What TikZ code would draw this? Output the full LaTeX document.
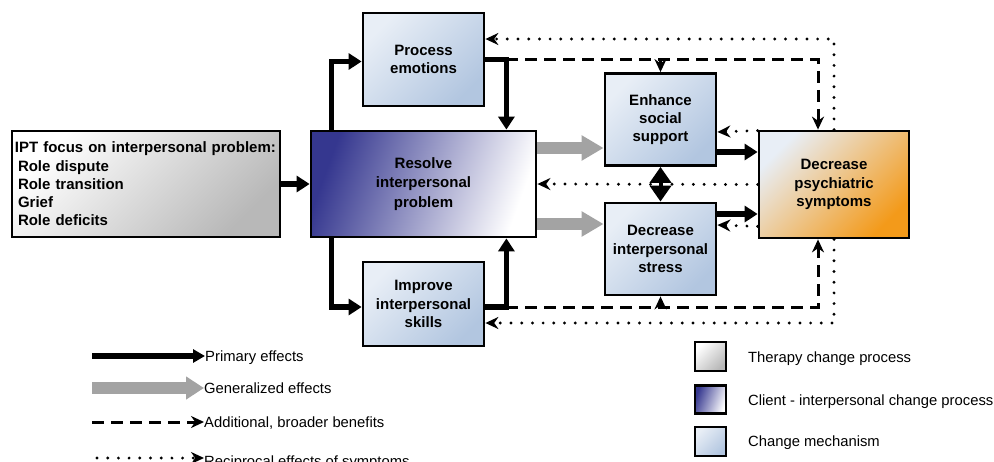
\documentclass[tikz,border=0pt]{standalone}
\usepackage{fontspec}
\setmainfont{Liberation Sans}
\usetikzlibrary{arrows.meta}

\definecolor{mechlight}{HTML}{E8EEF6}
\definecolor{mechdark}{HTML}{B2C6E0}
\definecolor{clientblue}{HTML}{35378F}
\definecolor{symorange}{HTML}{F39A1A}
\definecolor{arrowgrey}{HTML}{A3A3A3}

\begin{document}
\begin{tikzpicture}[x=1pt,y=-1pt,
  every node/.style={font=\fontsize{14.8}{18.3}\selectfont},
  boxnode/.style={draw,line width=2.8pt,align=center,inner sep=0pt,
    font=\bfseries\fontsize{15}{18.3}\selectfont},
  mech/.style={boxnode,top color=mechlight,bottom color=mechdark,shading angle=45},
  therapy/.style={boxnode,top color=white,bottom color=black!28,shading angle=45},
  client/.style={boxnode,top color=clientblue,bottom color=white,shading angle=70},
  symbox/.style={boxnode,top color=mechlight,bottom color=symorange,shading angle=45},
  primary/.style={line width=5.5pt,-{Triangle[length=13pt,width=16pt]}},
  general/.style={line width=12pt,arrowgrey,-{Triangle[length=22pt,width=24pt]}},
  broad/.style={line width=3pt,dash pattern=on 12pt off 7pt,-{Stealth[length=13pt,width=12pt]}},
  recip/.style={line width=3.2pt,line cap=round,dash pattern=on 0pt off 10.7pt,-{Stealth[length=13pt,width=12pt]}},
  legtext/.style={anchor=base west,inner sep=0pt}]
  \useasboundingbox (0,0) rectangle (994,461);

  \node[therapy,minimum width=268pt,minimum height=106pt,text width=262pt,align=left] (ipt) at (146,184)
    {IPT focus on interpersonal problem:\\\hspace{3pt}Role dispute\\\hspace{3pt}Role transition\\\hspace{3pt}Grief\\\hspace{3pt}Role deficits};
  \node[client,minimum width=225pt,minimum height=106pt,font=\bfseries\fontsize{15}{19.5}\selectfont] (resolve) at (423.5,184)
    {Resolve\\interpersonal\\problem};
  \node[mech,minimum width=121pt,minimum height=93pt] (process) at (423.5,59.5) {Process\\emotions};
  \node[mech,minimum width=121pt,minimum height=84pt] (improve) at (423.5,304) {Improve\\interpersonal\\skills};
  \node[mech,minimum width=111pt,minimum height=92pt] (enhance) at (660.5,119.5) {Enhance\\social\\support};
  \node[mech,minimum width=111pt,minimum height=92pt] (stress) at (660.5,249) {Decrease\\interpersonal\\stress};
  \node[symbox,minimum width=150pt,minimum height=107pt] (symptoms) at (834,184.5) {Decrease\\psychiatric\\symptoms};

  \draw[primary] (ipt) -- (resolve);
  \draw[primary] ([xshift=22pt]resolve.north west) |- ([yshift=-2pt]process.west);
  \draw[primary] (process.east) -| ([xshift=-31pt]resolve.north east);
  \draw[primary] ([xshift=22pt]resolve.south west) |- ([yshift=-3pt]improve.west);
  \draw[primary] ([yshift=-3pt]improve.east) -| ([xshift=-31pt]resolve.south east);

  \draw[general] ([yshift=36pt]resolve.east) -- ([yshift=-28.5pt]enhance.west);
  \draw[general] ([yshift=-40pt]resolve.east) -- ([yshift=25pt]stress.west);

  \draw[primary] ([yshift=-32.5pt]enhance.east) -- ([yshift=32.5pt]symptoms.west);
  \draw[primary] ([yshift=35pt]stress.east) -- ([yshift=-29.5pt]symptoms.west);
  \draw[line width=4pt,{Triangle[length=16pt,width=21pt]}-{Triangle[length=16pt,width=21pt]}] (enhance.south) -- (stress.north);

  \draw[broad] ([xshift=21pt]process.east) -| ([xshift=-16pt]symptoms.north);
  \draw[broad] (enhance.north |- process.east) -- (enhance.north);
  \draw[broad] ([xshift=21pt,yshift=-3pt]improve.east) -| ([xshift=-16pt]symptoms.south);
  \draw[broad] ([yshift=-3pt]stress.south |- improve.east) -- (stress.south);

  \draw[recip] (symptoms.west) -- (resolve.east);
  \draw[recip] ([yshift=-1pt]symptoms.north west) -- ([yshift=-12.5pt]enhance.east);
  \draw[recip] ([yshift=13pt]symptoms.south west) -- ([yshift=24pt]stress.east);
  \draw[recip] (symptoms.north) |- ([yshift=20.5pt]process.east);
  \draw[recip] (symptoms.south) |- ([yshift=-19pt]improve.east);

  \node[legtext] (lprim) at (205,361) {Primary effects};
  \node[legtext] (lgen) at (204,393) {Generalized effects};
  \node[legtext] (lbroad) at (204,427) {Additional, broader benefits};
  \node[legtext] (lrecip) at (204,466) {Reciprocal effects of symptoms};
  \coordinate (lprimstart) at (92,356);
  \coordinate (lgenstart) at (92,388);
  \coordinate (lbroadstart) at (92,422);
  \coordinate (lrecipstart) at (97,458);
  \draw[primary,-{Triangle[length=12pt,width=13pt]}] (lprimstart) -- (lprimstart -| lprim.west);
  \draw[general,-{Triangle[length=18pt,width=22pt]}] (lgenstart) -- (lgenstart -| lgen.west);
  \draw[broad] (lbroadstart) -- (lbroadstart -| lbroad.west);
  \draw[recip] (lrecipstart) -- (lrecipstart -| lrecip.west);

  \node[therapy,minimum width=31pt,minimum height=29pt] (ltherapy) at (710.5,356.5) {};
  \node[client,minimum width=31pt,minimum height=28pt] (lclient) at (710.5,399.5) {};
  \node[mech,minimum width=31pt,minimum height=29pt] (lmech) at (710.5,441.5) {};
  \node[legtext] (ltherapytxt) at (748,362) {Therapy change process};
  \node[legtext] (lclienttxt) at (748,405) {Client - interpersonal change process};
  \node[legtext] (lmechtxt) at (748,446) {Change mechanism};
\end{tikzpicture}
\end{document}
